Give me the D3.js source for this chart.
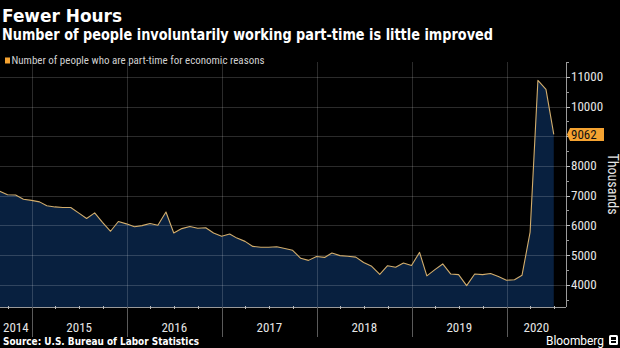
<!DOCTYPE html>
<html>
<head>
<meta charset="utf-8">
<script src="https://cdn.jsdelivr.net/npm/d3@7"></script>
<style>
  html, body { margin: 0; padding: 0; background: #000; }
  svg { display: block; }
</style>
</head>
<body>
<svg id="chart" width="620" height="348"></svg>
<script>
// ---- Chart data ----------------------------------------------------------
const titleText = "Fewer Hours";
const subtitleText = "Number of people involuntarily working part-time is little improved";
const seriesName = "Number of people who are part-time for economic reasons";
const sourceText = "Source: U.S. Bureau of Labor Statistics";
const unitLabel = "Thousands";

// Monthly observations, first one is August 2014, last one June 2020 (thousands)
const firstMonth = "2014-08";
const values = [
  7150, 7030, 7020, 6880, 6840,                                            // 2014 Aug-Dec
  6790, 6660, 6620, 6600, 6600, 6420, 6230, 6420, 6100, 5800, 6130, 6050,  // 2015
  5950, 5990, 6060, 6000, 6450, 5740, 5890, 5960, 5900, 5920, 5740, 5630,  // 2016
  5710, 5570, 5460, 5290, 5260, 5260, 5280, 5220, 5160, 4890, 4820, 4950,  // 2017
  4920, 5070, 4980, 4960, 4930, 4750, 4620, 4350, 4640, 4590, 4730, 4650,  // 2018
  5090, 4300, 4510, 4700, 4360, 4340, 3970, 4360, 4340, 4380, 4280, 4150,  // 2019
  4170, 4320, 5770, 10884, 10577, 9062                                     // 2020 Jan-Jun
];

const yTicks = [4000, 5000, 6000, 7000, 8000, 9000, 10000, 11000];
const yMinorTicks = [3500, 4500, 5500, 6500, 7500, 8500, 9500, 10500, 11500];
const yearLabels = ["2014", "2015", "2016", "2017", "2018", "2019", "2020"];
const lastValueLabel = "9062";

// ---- Layout ----------------------------------------------------------------
const W = 620, H = 348;
const plot = { left: 0, right: 566, top: 62, bottom: 307 };
const ORANGE = "#f5a331";
const AREA = "#08203f";
const GRID = "rgba(255,255,255,0.17)";
const NARROW = "'Liberation Sans Narrow', 'Roboto Condensed', Roboto, sans-serif";

const svg = d3.select("#chart");
svg.append("rect").attr("width", W).attr("height", H).attr("fill", "#000");

// Month-end dates for each observation
const parseMonth = d3.timeParse("%Y-%m");
const start = parseMonth(firstMonth);
const data = values.map((v, i) => {
  const m = d3.timeMonth.offset(start, i);
  return { date: new Date(m.getFullYear(), m.getMonth() + 1, 0), value: v };
});

const x = d3.scaleTime()
  .domain([new Date(2014, 8, 1), new Date(2020, 7, 16)])
  .range([plot.left, plot.right]);
const y = d3.scaleLinear()
  .domain([3250, 11500])
  .range([plot.bottom, plot.top]);

// ---- Area + line ---------------------------------------------------------
const area = d3.area()
  .x(d => x(d.date))
  .y0(plot.bottom)
  .y1(d => y(d.value));
const line = d3.line()
  .x(d => x(d.date))
  .y(d => y(d.value));

svg.append("clipPath").attr("id", "plotClip")
  .append("rect")
  .attr("x", plot.left).attr("y", plot.top)
  .attr("width", plot.right - plot.left).attr("height", plot.bottom - plot.top);

const g = svg.append("g").attr("clip-path", "url(#plotClip)");
g.append("path").datum(data).attr("d", area).attr("fill", AREA);

// ---- Gridlines (over the area) ---------------------------------------------
const yearStarts = d3.timeYear.range(new Date(2015, 0, 1), new Date(2021, 0, 1))
  .filter(d => x(d) < plot.right);

g.selectAll(".hgrid").data(yTicks).join("line")
  .attr("x1", plot.left).attr("x2", plot.right)
  .attr("y1", d => Math.round(y(d)) + 0.5).attr("y2", d => Math.round(y(d)) + 0.5)
  .attr("stroke", GRID).attr("stroke-width", 1);

g.selectAll(".vgrid").data(yearStarts).join("line")
  .attr("x1", d => Math.round(x(d)) + 0.5).attr("x2", d => Math.round(x(d)) + 0.5)
  .attr("y1", plot.top).attr("y2", plot.bottom)
  .attr("stroke", GRID).attr("stroke-width", 1);

g.append("path").datum(data).attr("d", line)
  .attr("fill", "none").attr("stroke", "#d2ad6c").attr("stroke-width", 1.1)
  .attr("stroke-linejoin", "round");

// ---- X axis ------------------------------------------------------------
svg.append("line")
  .attr("x1", plot.left).attr("x2", plot.right)
  .attr("y1", plot.bottom + 0.5).attr("y2", plot.bottom + 0.5)
  .attr("stroke", "#9a9a9a");

const quarterTicks = d3.timeMonth.every(3).range(x.domain()[0], x.domain()[1])
  .filter(d => d.getMonth() % 3 === 0 && d.getMonth() !== 0);
svg.selectAll(".qtick").data(quarterTicks).join("line")
  .attr("x1", d => Math.round(x(d)) + 0.5).attr("x2", d => Math.round(x(d)) + 0.5)
  .attr("y1", plot.bottom - 1).attr("y2", plot.bottom + 2)
  .attr("stroke", "#bbb");

svg.selectAll(".ysep").data(yearStarts).join("line")
  .attr("x1", d => Math.round(x(d)) + 0.5).attr("x2", d => Math.round(x(d)) + 0.5)
  .attr("y1", plot.bottom).attr("y2", 337)
  .attr("stroke", "#5a5a5a");

const yearBounds = yearLabels.map(label => {
  const yr = +label;
  const a = Math.max(plot.left, x(new Date(yr, 0, 1)));
  const b = Math.min(plot.right, x(new Date(yr + 1, 0, 1)));
  return { label, cx: (a + b) / 2 };
});
svg.selectAll(".yearLabel").data(yearBounds).join("text")
  .attr("x", d => d.cx).attr("y", 332)
  .attr("text-anchor", "middle")
  .attr("fill", "#e6e6e6")
  .style("font-family", NARROW).style("font-size", "13px")
  .text(d => d.label);

// ---- Y axis (right) ----------------------------------------------------
const last = data[data.length - 1];
const ly = y(last.value);

svg.append("line")
  .attr("x1", plot.right + 0.5).attr("x2", plot.right + 0.5)
  .attr("y1", plot.top).attr("y2", plot.bottom)
  .attr("stroke", "#9a9a9a");
svg.selectAll(".ymtick").data(yMinorTicks).join("line")
  .attr("x1", plot.right).attr("x2", plot.right + 3)
  .attr("y1", d => Math.round(y(d)) + 0.5).attr("y2", d => Math.round(y(d)) + 0.5)
  .attr("stroke", "#9a9a9a");
svg.selectAll(".ytick").data(yTicks).join("line")
  .attr("x1", plot.right).attr("x2", plot.right + 4)
  .attr("y1", d => Math.round(y(d)) + 0.5).attr("y2", d => Math.round(y(d)) + 0.5)
  .attr("stroke", "#bdbdbd");
// tick labels hidden where the last-value flag sits
svg.selectAll(".ylabel").data(yTicks.filter(t => Math.abs(y(t) - ly) > 12)).join("text")
  .attr("x", plot.right + 5).attr("y", d => y(d))
  .attr("dy", "0.35em")
  .attr("fill", "#e6e6e6")
  .style("font-family", NARROW).style("font-size", "13px")
  .text(d => d);

svg.append("text")
  .attr("transform", `translate(608,${(153 + 215) / 2}) rotate(90)`)
  .attr("text-anchor", "middle")
  .attr("fill", "#e6e6e6")
  .style("font-family", NARROW).style("font-size", "14px")
  .text(unitLabel);

// Last value flag
svg.append("path")
  .attr("d", `M${plot.right + 1},${ly} L${plot.right + 4},${ly - 6.5} L${plot.right + 38},${ly - 6.5} L${plot.right + 38},${ly + 6.5} L${plot.right + 4},${ly + 6.5} Z`)
  .attr("fill", ORANGE);
svg.append("text")
  .attr("x", plot.right + 5).attr("y", ly).attr("dy", "0.36em")
  .attr("fill", "#111")
  .style("font-family", NARROW).style("font-size", "13px")
  .text(lastValueLabel);

// ---- Titles, legend, footer ----------------------------------------------
svg.append("text")
  .attr("x", 2).attr("y", 22)
  .attr("fill", "#fff")
  .attr("textLength", 120).attr("lengthAdjust", "spacingAndGlyphs")
  .style("font-family", "'DejaVu Sans', sans-serif").style("font-weight", "bold").style("font-size", "18px")
  .text(titleText);
svg.append("text")
  .attr("x", 2).attr("y", 40)
  .attr("fill", "#fff")
  .attr("textLength", 491).attr("lengthAdjust", "spacingAndGlyphs")
  .style("font-family", "'DejaVu Sans', sans-serif").style("font-weight", "bold").style("font-size", "15px")
  .text(subtitleText);

svg.append("rect")
  .attr("x", 5).attr("y", 57.5).attr("width", 5).attr("height", 6)
  .attr("fill", ORANGE);
svg.append("text")
  .attr("x", 11.5).attr("y", 64)
  .attr("fill", "#d0d0d0")
  .attr("textLength", 253).attr("lengthAdjust", "spacingAndGlyphs")
  .style("font-family", NARROW).style("font-size", "11px")
  .text(seriesName);

svg.append("text")
  .attr("x", 3).attr("y", 345)
  .attr("fill", "#fff")
  .attr("textLength", 196).attr("lengthAdjust", "spacingAndGlyphs")
  .style("font-family", "'DejaVu Sans', sans-serif").style("font-weight", "bold").style("font-size", "11px")
  .text(sourceText);

svg.append("text")
  .attr("x", 546).attr("y", 345)
  .attr("fill", "#fff")
  .attr("textLength", 58).attr("lengthAdjust", "spacingAndGlyphs")
  .style("font-family", "Roboto, sans-serif").style("font-size", "13px")
  .text("Bloomberg");
// small logo glyph next to the wordmark
const logo = svg.append("g").attr("transform", "translate(609,335)");
logo.append("rect").attr("width", 9).attr("height", 10).attr("rx", 1.5).attr("fill", "#fff");
logo.append("rect").attr("x", 2).attr("y", 2).attr("width", 5).attr("height", 3).attr("fill", "#000");
logo.append("rect").attr("x", 2).attr("y", 6).attr("width", 5).attr("height", 2).attr("fill", "#000");
</script>
</body>
</html>
